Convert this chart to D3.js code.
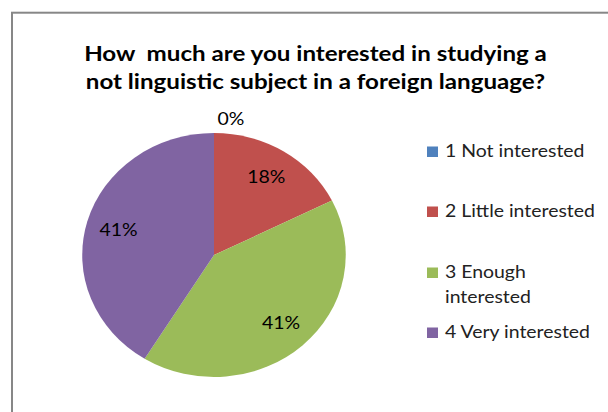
<!DOCTYPE html>
<html>
<head>
<meta charset="utf-8">
<script src="https://cdn.jsdelivr.net/npm/d3@7"></script>
<style>
  body { margin: 0; background: #fff; }
  svg { display: block; font-family: Lato, "Open Sans", sans-serif; }
  text { white-space: pre; }
</style>
</head>
<body>
<div id="chart"></div>
<script>
const titleLines = ['How  much are you interested in studying a', 'not linguistic subject in a foreign language?'];
const categories = ['1 Not interested', '2 Little interested', '3 Enough interested', '4 Very interested'];
const legendLines = [['1 Not interested'], ['2 Little interested'], ['3 Enough', 'interested'], ['4 Very interested']];
const counts = [0, 12, 28, 28];
const colors = ['#4F81BD', '#C0504D', '#9BBB59', '#8064A2'];

const width = 608, height = 412;
const cx = 214, cy = 255, radius = 122, stretchX = 1.08;
const labelRadius = 92;

const data = categories.map((c, i) => ({ category: c, value: counts[i], color: colors[i], lines: legendLines[i] }));
const total = d3.sum(counts);
const pct = d3.format('.0%');

const svg = d3.select('#chart').append('svg')
    .attr('width', width)
    .attr('height', height);

// chart area frame (only top and left edges fall inside the picture)
svg.append('rect')
    .attr('x', 12).attr('y', 12.7)
    .attr('width', 640).attr('height', 440)
    .attr('fill', 'none')
    .attr('stroke', '#878787')
    .attr('stroke-width', 2);

svg.append('text')
    .attr('transform', 'translate(315.5,61) scale(1.15,1)')
    .attr('text-anchor', 'middle')
    .attr('font-weight', 'bold')
    .attr('font-size', '21px')
    .attr('fill', '#000')
    .selectAll('tspan')
    .data(titleLines)
    .enter()
    .append('tspan')
    .attr('x', 0)
    .attr('dy', (d, i) => i === 0 ? 0 : 28)
    .text(d => d);

const pieGenerator = d3.pie().sort(null).value(d => d.value);
const arcData = pieGenerator(data);

const arcGenerator = d3.arc().innerRadius(0).outerRadius(radius);
const labelArc = d3.arc().innerRadius(labelRadius).outerRadius(labelRadius);
const outsideArc = d3.arc().innerRadius(radius + 14).outerRadius(radius + 14);

const pieG = svg.append('g')
    .attr('transform', `translate(${cx},${cy}) scale(${stretchX},1)`);

pieG.selectAll('path')
    .data(arcData)
    .enter()
    .append('path')
    .attr('d', arcGenerator)
    .attr('fill', d => d.data.color);

svg.append('g')
    .attr('transform', `translate(${cx},${cy})`)
    .selectAll('text')
    .data(arcData)
    .enter()
    .append('text')
    .attr('transform', d => {
        const c = d.value === 0 ? outsideArc.centroid(d) : labelArc.centroid(d);
        const shift = d.value === 0 ? 17 : 0;
        return `translate(${c[0] * stretchX + shift},${c[1]}) scale(${stretchX},1)`;
    })
    .attr('text-anchor', 'middle')
    .attr('dy', '0.35em')
    .attr('font-size', '18px')
    .attr('fill', '#000')
    .text(d => pct(d.value / total));

const legend = svg.selectAll('.legend')
    .data(data)
    .enter()
    .append('g')
    .attr('class', 'legend')
    .attr('transform', (d, i) => `translate(427, ${[157, 217, 278, 338][i]})`);

legend.append('rect')
    .attr('x', 0)
    .attr('y', -10.5)
    .attr('width', 11)
    .attr('height', 10.5)
    .attr('fill', d => d.color);

legend.append('text')
    .attr('transform', `translate(18,0) scale(${stretchX},1)`)
    .attr('font-size', '18px')
    .attr('fill', '#222')
    .selectAll('tspan')
    .data(d => d.lines)
    .enter()
    .append('tspan')
    .attr('x', 0)
    .attr('dy', (d, i) => i === 0 ? 0 : 24.7)
    .text(d => d);
</script>
</body>
</html>
